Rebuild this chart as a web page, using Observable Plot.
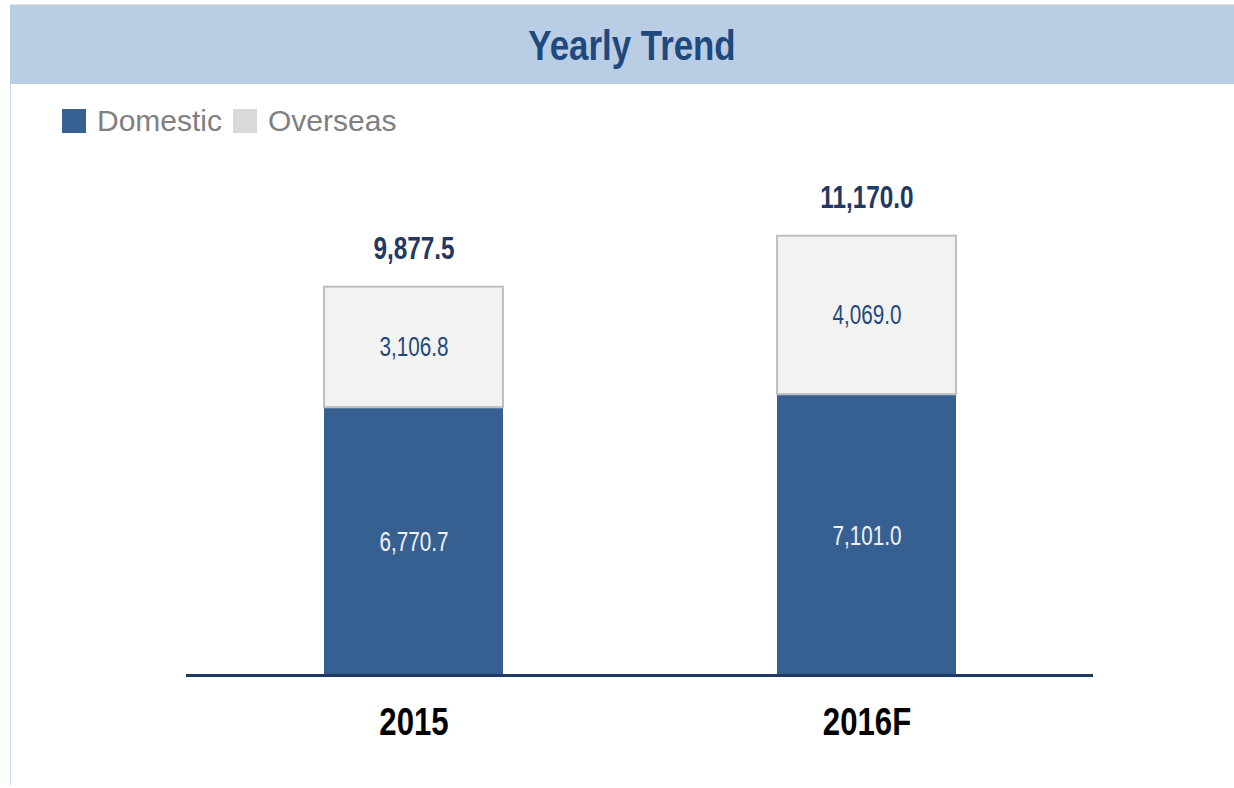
<!DOCTYPE html>
<html>
<head>
<meta charset="utf-8">
<script src="https://cdn.jsdelivr.net/npm/d3@7"></script>
<script src="https://cdn.jsdelivr.net/npm/@observablehq/plot@0.6"></script>
<style>
  html, body { margin: 0; padding: 0; background: #ffffff; }
  body { width: 1234px; height: 788px; position: relative; overflow: hidden; font-family: "Liberation Sans", Arial, sans-serif; }
  #topline { position: absolute; left: 10px; top: 4px; width: 1224px; height: 1px; background: #e6e6e6; }
  #banner { position: absolute; left: 10px; top: 5px; width: 1224px; height: 79px; background: #b9cde5; }
  #title { position: absolute; left: 432px; width: 400px; top: 21px; text-align: center; font-weight: bold; font-size: 42px; line-height: 50px; color: #1f497d; transform: scaleX(0.83); transform-origin: 200px 0; }
  #leftline { position: absolute; left: 10px; top: 84px; width: 1px; height: 701px; background: #c6d9f1; }
  #legend { position: absolute; left: 62px; top: 104px; height: 34px; display: flex; align-items: center; font-size: 30px; color: #808080; }
  .sw { display: inline-block; width: 24px; height: 24px; margin-right: 11px; }
  .item { display: flex; align-items: center; margin-right: 11px; }
  #chart { position: absolute; left: 0; top: 150px; }
</style>
</head>
<body>
<div id="topline"></div>
<div id="banner"></div>
<div id="title">Yearly Trend</div>
<div id="leftline"></div>
<div id="legend"></div>
<div id="chart"></div>
<script>
const years = ["2015", "2016F"];
const domestic = [6770.7, 7101.0];
const overseas = [3106.8, 4069.0];
const totals = [9877.5, 11170.0];
const seriesNames = ["Domestic", "Overseas"];
const seriesColors = ["#376092", "#d9d9d9"];

const fmt = d3.format(",.1f");
const rows = years.map((y, i) => ({
  year: y,
  dom: domestic[i],
  ovs: overseas[i],
  total: totals[i]
}));

// legend
const legend = document.getElementById("legend");
seriesNames.forEach((n, i) => {
  const it = document.createElement("div");
  it.className = "item";
  it.innerHTML = `<span class="sw" style="background:${seriesColors[i]}"></span><span>${n}</span>`;
  legend.appendChild(it);
});

const font = '"Liberation Sans", Arial, sans-serif';

const plot = Plot.plot({
  width: 1234,
  height: 638,
  marginLeft: 186,
  marginRight: 141,
  marginTop: 52,
  marginBottom: 113,
  x: { domain: years, padding: 0, axis: null },
  y: { domain: [0, 12000], axis: null },
  style: { background: "transparent", overflow: "visible" },
  marks: [
    Plot.barY(rows, { x: "year", y1: 0, y2: "dom", fill: seriesColors[0], inset: 137, insetTop: 0, insetBottom: 0 }),
    Plot.barY(rows, { x: "year", y1: "dom", y2: d => d.dom + d.ovs, fill: "#f2f2f2", stroke: "#bfbfbf", strokeWidth: 2, inset: 137, insetTop: 1, insetBottom: 1 }),
    Plot.ruleY([0], { stroke: "#1f3864", strokeWidth: 3 }),
    Plot.text(rows, { x: "year", y: d => d.dom / 2, text: d => fmt(d.dom), fill: "#f2f2f2", fontSize: 28, fontFamily: font, lineAnchor: "middle" }),
    Plot.text(rows, { x: "year", y: d => d.dom + d.ovs / 2, text: d => fmt(d.ovs), fill: "#1f497d", fontSize: 28, fontFamily: font, lineAnchor: "middle" }),
    Plot.text(rows, { x: "year", y: "total", text: d => fmt(d.total), fill: "#1f3864", fontSize: 32, fontWeight: "bold", fontFamily: font, lineAnchor: "middle", dy: -37 }),
    Plot.text(rows, { x: "year", y: 0, text: "year", fill: "#000000", fontSize: 38, fontWeight: "bold", fontFamily: font, lineAnchor: "middle", dy: 47 })
  ]
});
document.getElementById("chart").appendChild(plot);

// condense text horizontally (narrow-font look)
const squeeze = new Map();
rows.forEach(r => {
  squeeze.set(fmt(r.dom), 0.74);
  squeeze.set(fmt(r.ovs), 0.74);
  squeeze.set(fmt(r.total), 0.76);
  squeeze.set(r.year, 0.82);
});
plot.querySelectorAll("text").forEach(t => {
  const k = squeeze.get(t.textContent);
  if (!k) return;
  const b = t.getBBox();
  const cx = b.x + b.width / 2;
  const prev = t.getAttribute("transform") || "";
  t.setAttribute("transform", `${prev} translate(${cx},0) scale(${k},1) translate(${-cx},0)`);
});
</script>
</body>
</html>
